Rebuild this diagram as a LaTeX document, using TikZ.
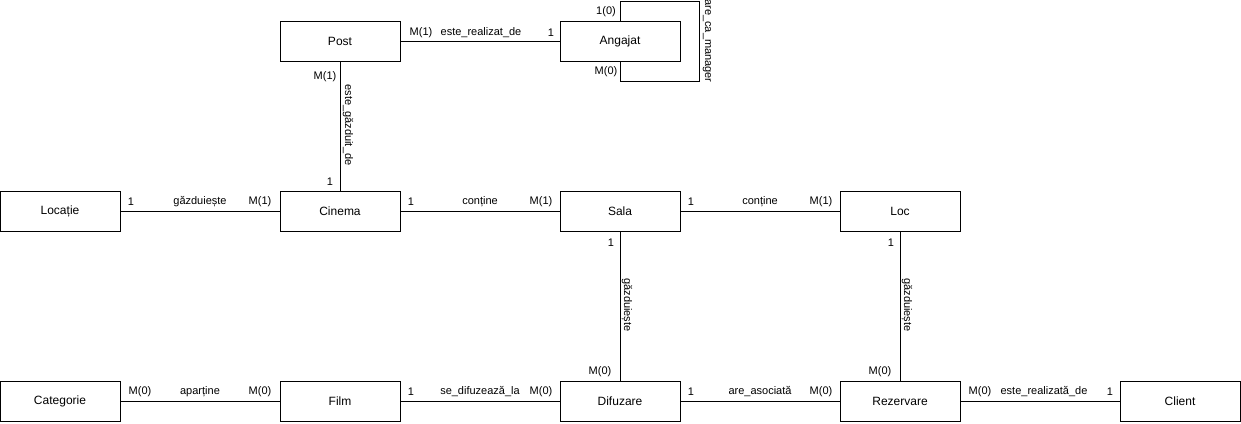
\documentclass[tikz,border=0pt]{standalone}
\usepackage{fontspec}
\setmainfont{Liberation Sans}
\begin{document}
\begin{tikzpicture}[x=1pt,y=-1pt,
  ent/.style={draw,line width=1pt,minimum width=120pt,minimum height=40pt,inner sep=0pt,font=\fontsize{12}{14}\selectfont},
  lbl/.style={inner sep=0pt,font=\fontsize{11}{13}\selectfont},
  conn/.style={line width=1pt}]
\useasboundingbox (0,0) rectangle (1241,423);
% entities
\node[ent] (post) at (340,41) {Post};
\node[ent] (ang) at (620,41) {Angajat};
\node[ent] (loca) at (60,211) {Locație};
\node[ent] (cin) at (340,211) {Cinema};
\node[ent] (sala) at (620,211) {Sala};
\node[ent] (loc) at (900,211) {Loc};
\node[ent] (cat) at (60,401) {Categorie};
\node[ent] (film) at (340,401) {Film};
\node[ent] (dif) at (620,401) {Difuzare};
\node[ent] (rez) at (900,401) {Rezervare};
\node[ent] (cli) at (1180,401) {Client};
% connectors
\draw[conn] (post) -- (ang);
\draw[conn] (post) -- (cin);
\draw[conn] (loca) -- (cin);
\draw[conn] (cin) -- (sala);
\draw[conn] (sala) -- (loc);
\draw[conn] (sala) -- (dif);
\draw[conn] (loc) -- (rez);
\draw[conn] (cat) -- (film);
\draw[conn] (film) -- (dif);
\draw[conn] (dif) -- (rez);
\draw[conn] (rez) -- (cli);
\coordinate (l1) at (620,1);
\coordinate (l2) at (699,1);
\coordinate (l3) at (699,81);
\coordinate (l4) at (620,81);
\draw[conn] (ang.north) -- (l1) -- (l2) -- (l3) -- (l4) -- (ang.south);
% labels
\node[lbl] (t1) at (606,12) {1(0)};
\node[lbl] (t2) at (606,72) {M(0)};
\node[lbl,rotate=-90] (t3) at (707,41) {are\_ca\_manager};
\node[lbl] (t4) at (421,33) {M(1)};
\node[lbl] (t5) at (481,33) {este\_realizat\_de};
\node[lbl] (t6) at (551,33) {1};
\node[lbl] (t7) at (325,77) {M(1)};
\node[lbl,rotate=-90] (t8) at (348,125) {este\_găzduit\_de};
\node[lbl] (t9) at (330,182) {1};
\node[lbl] (t10) at (131,202) {1};
\node[lbl] (t11) at (200,202) {găzduiește};
\node[lbl] (t12) at (260,202) {M(1)};
\node[lbl] (t13) at (411,202) {1};
\node[lbl] (t14) at (480,202) {conține};
\node[lbl] (t15) at (541,202) {M(1)};
\node[lbl] (t16) at (691,202) {1};
\node[lbl] (t17) at (760,202) {conține};
\node[lbl] (t18) at (821,202) {M(1)};
\node[lbl] (t19) at (611,243) {1};
\node[lbl,rotate=-90] (t20) at (627,305) {găzduiește};
\node[lbl] (t21) at (600,372) {M(0)};
\node[lbl] (t22) at (891,243) {1};
\node[lbl,rotate=-90] (t23) at (907,305) {găzduiește};
\node[lbl] (t24) at (880,372) {M(0)};
\node[lbl] (t25) at (140,392) {M(0)};
\node[lbl] (t26) at (200,392) {aparține};
\node[lbl] (t27) at (260,392) {M(0)};
\node[lbl] (t28) at (411,392) {1};
\node[lbl] (t29) at (480,392) {se\_difuzează\_la};
\node[lbl] (t30) at (541,392) {M(0)};
\node[lbl] (t31) at (691,392) {1};
\node[lbl] (t32) at (760,392) {are\_asociată};
\node[lbl] (t33) at (821,392) {M(0)};
\node[lbl] (t34) at (980,392) {M(0)};
\node[lbl] (t35) at (1044,392) {este\_realizată\_de};
\node[lbl] (t36) at (1110,392) {1};
\end{tikzpicture}
\end{document}
